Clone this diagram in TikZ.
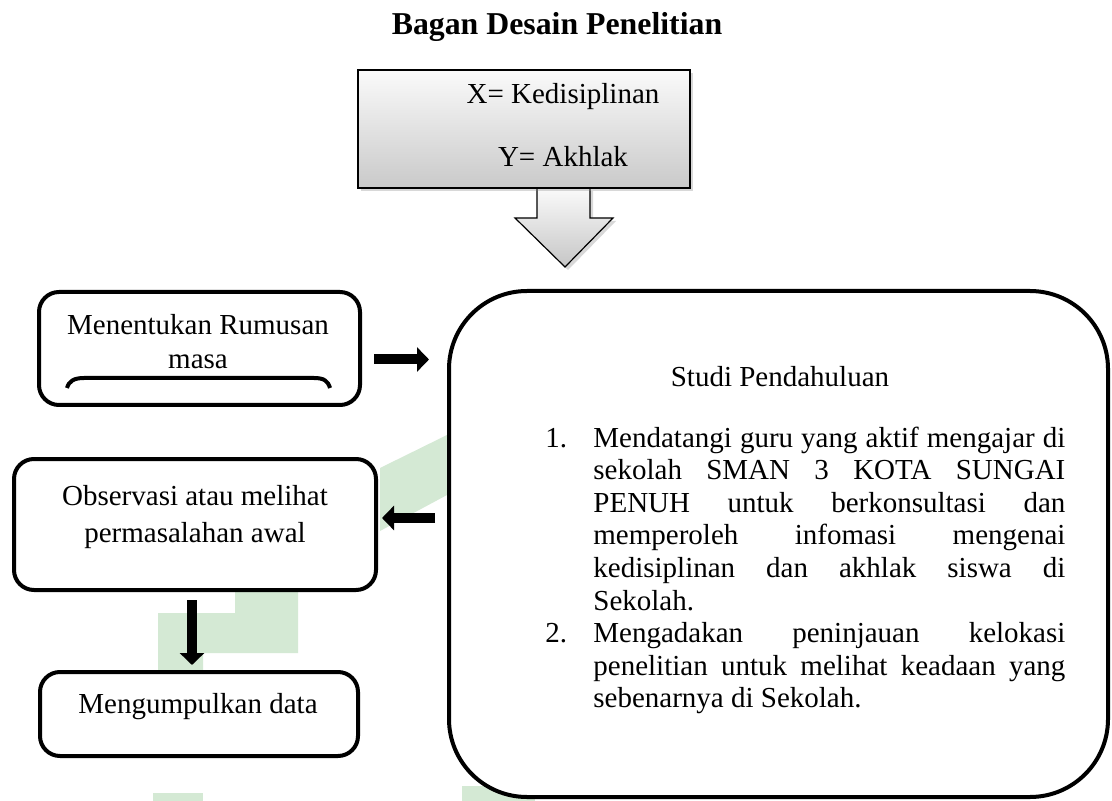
\documentclass[tikz,border=0pt]{standalone}
\usepackage{fontspec}
\setmainfont{Liberation Serif}
\usetikzlibrary{arrows.meta,shadows,calc}
\definecolor{wmgreen}{RGB}{212,233,212}
\begin{document}
\begin{tikzpicture}[x=0.5pt,y=-0.5pt,
  every node/.style={font=\fontsize{14.5}{16.3}\selectfont},
  rbox/.style={draw=black, line width=2pt, rounded corners=10pt, fill=white, inner sep=0pt, outer sep=0pt, anchor=north west},
  bigbox/.style={draw=black, line width=2pt, rounded corners=39pt, fill=white, inner sep=0pt, outer sep=0pt, anchor=north west},
  graybox/.style={draw=black, line width=0.6pt, top color=gray!4, bottom color=gray!42, inner sep=0pt, outer sep=0pt, anchor=north west,
    drop shadow={shadow xshift=1.5pt, shadow yshift=-1.5pt, opacity=0.3, fill=gray}},
  blockarrow/.style={line width=5pt, -{Triangle[width=12pt,length=6pt]}},
  wm/.style={fill=wmgreen, draw=none},
  txt/.style={anchor=base, inner sep=0pt}]
\useasboundingbox (0,0) rectangle (1112,801);
\fill[white] (0,0) rectangle (1112,801);
% faint watermark pieces
\fill[wm] (380,468) -- (447,435) -- (447,495) -- (380,531) -- cycle;
\fill[wm] (158,613) -- (235,613) -- (235,592) -- (298,592) -- (298,653) -- (203,653) -- (203,670) -- (158,670) -- cycle;
\fill[wm] (153,793) rectangle (203,801);
\fill[wm] (462,786) rectangle (535,801);
% title
\node[txt, font=\bfseries\fontsize{15.9}{18}\selectfont] (title) at (557,35) {Bagan Desain Penelitian};
% gray block arrow and box
\path[draw=black, line width=0.6pt, top color=gray!4, bottom color=gray!45,
  drop shadow={shadow xshift=1.5pt, shadow yshift=-1.5pt, opacity=0.3, fill=gray}]
  (537,188) -- (590,188) -- (590,218) -- (613,218) -- (565,267) -- (515,218) -- (537,218) -- cycle;
\node[graybox, minimum width=166pt, minimum height=59pt] (gray) at (358,70) {};
\node[txt] (xk) at (563,104) {X= Kedisiplinan};
\node[txt] (ya) at (563,167) {Y= Akhlak};
% left boxes
\node[rbox, minimum width=160.5pt, minimum height=56.5pt] (box1) at (39,292) {};
\draw[line width=2pt] (67,388) .. controls (69,381) and (74,378) .. (84,378) -- (314,378) .. controls (324,378) and (328,381) .. (330,388);
\node[txt] (t1a) at (198,335) {Menentukan Rumusan};
\node[txt] (t1b) at (198,369) {masa};
\node[rbox, minimum width=181pt, minimum height=65.5pt] (box2) at (14,459) {};
\node[txt] (t2a) at (195,505) {Observasi atau melihat};
\node[txt] (t2b) at (195,542) {permasalahan awal};
\node[rbox, minimum width=159pt, minimum height=42pt] (box3) at (40,672) {};
\node[txt] (t3) at (198,713) {Mengumpulkan data};
% big box
\node[bigbox, minimum width=329.5pt, minimum height=253pt] (big) at (449,291) {};
\node[txt] (studi) at (780,387) {Studi Pendahuluan};
\node[anchor=base west, inner sep=0pt] (list) at (545,447) {\begin{minipage}[t]{260pt}\fontsize{14.5}{16.3}\selectfont
\noindent\makebox[24pt][l]{1.}\makebox[236pt][s]{Mendatangi guru yang aktif mengajar di}\\
\hspace*{24pt}\makebox[236pt][s]{sekolah SMAN 3 KOTA SUNGAI}\\
\hspace*{24pt}\makebox[236pt][s]{PENUH untuk berkonsultasi dan}\\
\hspace*{24pt}\makebox[236pt][s]{memperoleh infomasi mengenai}\\
\hspace*{24pt}\makebox[236pt][s]{kedisiplinan dan akhlak siswa di}\\
\hspace*{24pt}Sekolah.\\
\makebox[24pt][l]{2.}\makebox[236pt][s]{Mengadakan peninjauan kelokasi}\\
\hspace*{24pt}\makebox[236pt][s]{penelitian untuk melihat keadaan yang}\\
\hspace*{24pt}sebenarnya di Sekolah.
\end{minipage}};
% connectors
\coordinate (a1s) at ($(box1.east)+(14,11)$);
\coordinate (a1e) at ($(big.west |- a1s)+(-20,0)$);
\draw[blockarrow] (a1s) -- (a1e);
\coordinate (a2s) at ($(big.west |- 0,518)+(-14,0)$);
\coordinate (a2e) at ($(box2.east |- a2s)+(6,0)$);
\draw[blockarrow] (a2s) -- (a2e);
\coordinate (a3s) at ($(box2.south -| 192,0)+(0,10)$);
\coordinate (a3e) at ($(box3.north -| 192,0)+(0,-7)$);
\draw[blockarrow] (a3s) -- (a3e);
\end{tikzpicture}
\end{document}
